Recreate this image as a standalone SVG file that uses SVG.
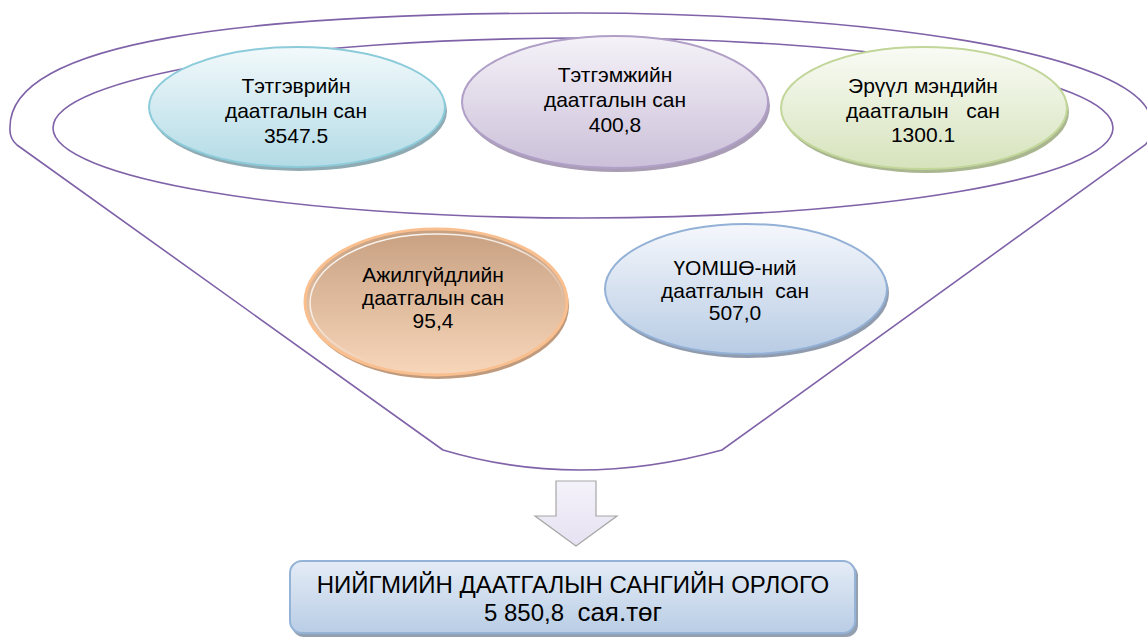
<svg xmlns="http://www.w3.org/2000/svg" width="1147" height="639" viewBox="0 0 1147 639">
<defs>
<linearGradient id="gBlue" x1="0" y1="0" x2="0" y2="1"><stop offset="0" stop-color="#F2F9FB"/><stop offset="1" stop-color="#B3DBE6"/></linearGradient>
<linearGradient id="gPurple" x1="0" y1="0" x2="0" y2="1"><stop offset="0" stop-color="#F5F2F8"/><stop offset="1" stop-color="#CBC0D9"/></linearGradient>
<linearGradient id="gGreen" x1="0" y1="0" x2="0" y2="1"><stop offset="0" stop-color="#F9FBF5"/><stop offset="1" stop-color="#D6E3BC"/></linearGradient>
<linearGradient id="gOrange" x1="0" y1="0" x2="0" y2="1"><stop offset="0" stop-color="#C7A081"/><stop offset="1" stop-color="#F8D6BA"/></linearGradient>
<linearGradient id="gOrangeHi" x1="0" y1="0" x2="0.6" y2="1"><stop offset="0" stop-color="#FFFFFF" stop-opacity="1"/><stop offset="0.45" stop-color="#FFFFFF" stop-opacity="0.7"/><stop offset="0.8" stop-color="#FFFFFF" stop-opacity="0"/></linearGradient>
<linearGradient id="gLav" x1="0" y1="0" x2="0" y2="1"><stop offset="0" stop-color="#F5F7FC"/><stop offset="1" stop-color="#B8CCE4"/></linearGradient>
<linearGradient id="gBox" x1="0" y1="0" x2="0" y2="1"><stop offset="0" stop-color="#E4ECF6"/><stop offset="1" stop-color="#B9CDE5"/></linearGradient>
<linearGradient id="gArrow" x1="0" y1="0" x2="0" y2="1"><stop offset="0" stop-color="#F4F2FA"/><stop offset="1" stop-color="#E6E2F2"/></linearGradient>
</defs>
<style>
.funnel{fill:none;stroke:#7F62A8;stroke-width:1.6}
.lbl{font-family:"Liberation Sans",Arial,sans-serif;font-size:21px;fill:#000;text-anchor:middle;white-space:pre}
.big{font-family:"Liberation Sans",Arial,sans-serif;font-size:24px;fill:#000;text-anchor:middle;white-space:pre}
</style>
<g id="connectors">
<path class="funnel" d="M 443 450 L 17 145 Q 9 138 10 127 C 10 40 250 13 578 13 C 850 13 1152 50 1152 125 Q 1152 138 1145 145 L 722 450 Q 577 490 443 450 Z"/>
<path class="funnel" d="M 53 128 C 53 78 290 38 583 38 C 876 38 1113 78 1113 128 C 1113 178 876 218 583 218 C 290 218 53 178 53 128 Z"/>
<path id="arrow" d="M 556 481 L 596 481 L 596 516 L 617 516 L 576 546 L 535 516 L 556 516 Z" fill="url(#gArrow)" stroke="#A6A6A6" stroke-width="1.2"/>
</g>
<g id="node-pension">
<ellipse cx="299" cy="111" rx="148" ry="60" fill="#8FAAB2"/>
<ellipse cx="297" cy="107" rx="148" ry="60" fill="url(#gBlue)" stroke="#8CCBDA" stroke-width="2"/>
<text class="lbl" x="296" y="93">Тэтгэврийн</text>
<text class="lbl" x="296" y="118">даатгалын сан</text>
<text class="lbl" x="296" y="143">3547.5</text>
</g>
<g id="node-benefit">
<ellipse cx="617" cy="106" rx="153" ry="66" fill="#A89DB4"/>
<ellipse cx="615" cy="102" rx="153" ry="66" fill="url(#gPurple)" stroke="#B09FC6" stroke-width="2"/>
<text class="lbl" x="615" y="82">Тэтгэмжийн</text>
<text class="lbl" x="615" y="107">даатгалын сан</text>
<text class="lbl" x="615" y="132">400,8</text>
</g>
<g id="node-health">
<ellipse cx="926" cy="112" rx="143" ry="61" fill="#A9B690"/>
<ellipse cx="924" cy="108" rx="143" ry="61" fill="url(#gGreen)" stroke="#C2D69A" stroke-width="2"/>
<text class="lbl" x="923" y="93">Эрүүл мэндийн</text>
<text class="lbl" x="923" y="118">даатгалын   сан</text>
<text class="lbl" x="923" y="142">1300.1</text>
</g>
<g id="node-unemployment">
<ellipse cx="438" cy="306" rx="131" ry="73" fill="#C09A7C"/>
<ellipse cx="436" cy="302" rx="131" ry="73" fill="url(#gOrange)" stroke="#F9BF8F" stroke-width="3"/>
<ellipse cx="437" cy="303" rx="127" ry="69" fill="none" stroke="url(#gOrangeHi)" stroke-width="1.5"/>
<text class="lbl" x="433" y="282">Ажилгүйдлийн</text>
<text class="lbl" x="433" y="305">даатгалын сан</text>
<text class="lbl" x="433" y="328">95,4</text>
</g>
<g id="node-industrial">
<ellipse cx="748" cy="293" rx="141" ry="65" fill="#909CAD"/>
<ellipse cx="746" cy="289" rx="141" ry="65" fill="url(#gLav)" stroke="#93B1D6" stroke-width="2"/>
<text class="lbl" x="735" y="275">ҮОМШӨ-ний</text>
<text class="lbl" x="735" y="298">даатгалын  сан</text>
<text class="lbl" x="735" y="320">507,0</text>
</g>
<g id="node-total">
<rect x="292" y="564" width="566" height="73" rx="12" fill="#93A0B0"/>
<rect x="290" y="561" width="565" height="72" rx="12" fill="url(#gBox)" stroke="#95B3D7" stroke-width="2"/>
<text class="big" x="573" y="593">НИЙГМИЙН ДААТГАЛЫН САНГИЙН ОРЛОГО</text>
<text class="big" x="573" y="621">5 850,8  <tspan font-size="26">сая.төг</tspan></text>
</g>
</svg>
